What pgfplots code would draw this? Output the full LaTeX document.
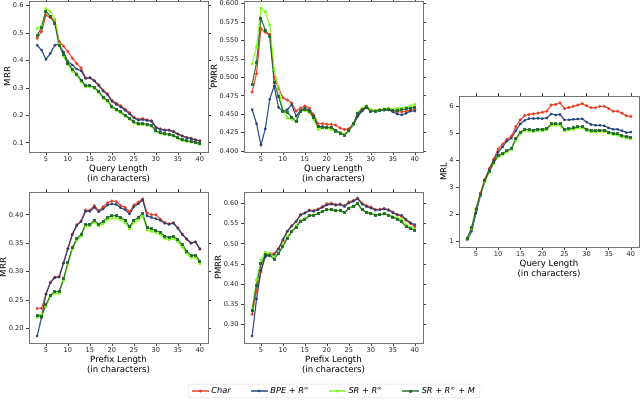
\documentclass[border=0pt]{standalone}
\usepackage{fontspec}
\setmainfont{DejaVu Sans}
\usepackage{pgfplots}
\usepackage{pgfplotstable}
\pgfplotsset{compat=1.18}

\definecolor{cchar}{RGB}{228,58,32}
\definecolor{cbpe}{RGB}{24,58,118}
\definecolor{csr}{RGB}{124,250,20}
\definecolor{csrm}{RGB}{30,100,40}

% MRR vs query length
\pgfplotstableread{
x char bpe sr srm
3 0.480 0.455 0.515 0.490
4 0.505 0.437 0.525 0.520
5 0.565 0.403 0.588 0.578
6 0.555 0.425 0.578 0.560
7 0.545 0.455 0.550 0.535
8 0.468 0.458 0.460 0.455
9 0.452 0.430 0.415 0.420
10 0.432 0.395 0.385 0.390
11 0.408 0.383 0.360 0.368
12 0.388 0.368 0.345 0.350
13 0.372 0.362 0.322 0.328
14 0.336 0.334 0.303 0.307
15 0.337 0.336 0.305 0.309
16 0.326 0.325 0.298 0.301
17 0.311 0.308 0.283 0.287
18 0.291 0.288 0.262 0.266
19 0.278 0.275 0.250 0.253
20 0.254 0.250 0.228 0.232
21 0.244 0.240 0.218 0.222
22 0.234 0.230 0.208 0.212
23 0.222 0.218 0.197 0.200
24 0.209 0.205 0.186 0.189
25 0.193 0.190 0.172 0.176
26 0.185 0.182 0.165 0.168
27 0.188 0.184 0.166 0.169
28 0.183 0.181 0.163 0.166
29 0.180 0.178 0.160 0.163
30 0.157 0.155 0.140 0.143
31 0.150 0.148 0.133 0.136
32 0.146 0.145 0.130 0.133
33 0.146 0.145 0.128 0.131
34 0.141 0.140 0.124 0.127
35 0.132 0.131 0.114 0.117
36 0.125 0.124 0.108 0.111
37 0.119 0.118 0.104 0.107
38 0.116 0.115 0.102 0.105
39 0.111 0.110 0.099 0.102
40 0.107 0.106 0.094 0.097
}\qmrr

% PMRR vs query length
\pgfplotstableread{
x char bpe sr srm
3 0.480 0.456 0.518 0.490
4 0.505 0.437 0.541 0.520
5 0.566 0.408 0.594 0.580
6 0.561 0.430 0.589 0.564
7 0.558 0.470 0.571 0.555
8 0.500 0.488 0.511 0.493
9 0.485 0.459 0.486 0.474
10 0.472 0.454 0.454 0.454
11 0.469 0.456 0.445 0.452
12 0.465 0.463 0.443 0.446
13 0.454 0.447 0.440 0.440
14 0.458 0.455 0.454 0.454
15 0.461 0.458 0.455 0.456
16 0.458 0.455 0.452 0.454
17 0.449 0.447 0.443 0.445
18 0.437 0.433 0.429 0.433
19 0.437 0.433 0.431 0.432
20 0.436 0.431 0.431 0.432
21 0.436 0.431 0.429 0.432
22 0.435 0.428 0.427 0.427
23 0.431 0.425 0.425 0.424
24 0.429 0.422 0.422 0.421
25 0.430 0.428 0.427 0.428
26 0.436 0.435 0.436 0.437
27 0.447 0.447 0.452 0.451
28 0.456 0.454 0.458 0.456
29 0.459 0.459 0.461 0.460
30 0.455 0.454 0.456 0.454
31 0.455 0.454 0.455 0.454
32 0.456 0.455 0.456 0.455
33 0.456 0.455 0.457 0.456
34 0.456 0.456 0.458 0.456
35 0.454 0.453 0.456 0.455
36 0.453 0.450 0.458 0.455
37 0.453 0.449 0.458 0.456
38 0.454 0.451 0.459 0.457
39 0.455 0.454 0.461 0.458
40 0.456 0.454 0.463 0.459
}\qpmrr

% MRL vs query length
\pgfplotstableread{
x char bpe sr srm
3 1.10 1.05 1.08 1.12
4 1.45 1.38 1.48 1.50
5 2.20 2.05 2.18 2.20
6 2.80 2.70 2.73 2.75
7 3.30 3.25 3.22 3.25
8 3.70 3.65 3.57 3.60
9 4.05 4.00 3.88 3.92
10 4.42 4.30 4.14 4.18
11 4.60 4.50 4.21 4.25
12 4.78 4.72 4.31 4.35
13 4.90 4.82 4.41 4.45
14 5.25 5.10 4.75 4.80
15 5.50 5.35 5.00 5.05
16 5.66 5.48 5.10 5.15
17 5.70 5.55 5.08 5.13
18 5.72 5.55 5.07 5.12
19 5.75 5.56 5.10 5.15
20 5.78 5.55 5.10 5.15
21 5.82 5.57 5.13 5.18
22 6.05 5.72 5.30 5.35
23 6.07 5.68 5.30 5.35
24 6.13 5.70 5.30 5.35
25 5.92 5.50 5.10 5.15
26 5.96 5.50 5.13 5.18
27 6.00 5.52 5.15 5.20
28 6.05 5.53 5.20 5.25
29 6.10 5.54 5.20 5.25
30 6.02 5.42 5.10 5.15
31 5.95 5.33 5.05 5.10
32 5.95 5.30 5.05 5.10
33 6.00 5.30 5.07 5.12
34 6.00 5.28 5.07 5.12
35 5.92 5.20 5.00 5.05
36 5.82 5.15 4.95 5.00
37 5.82 5.15 4.93 4.98
38 5.75 5.10 4.87 4.92
39 5.65 5.03 4.83 4.88
40 5.63 5.05 4.80 4.85
}\qmrl

% MRR vs prefix length
\pgfplotstableread{
x char bpe sr srm
3 0.235 0.186 0.219 0.222
4 0.235 0.219 0.224 0.221
5 0.260 0.260 0.238 0.241
6 0.281 0.280 0.256 0.258
7 0.290 0.289 0.262 0.264
8 0.291 0.290 0.261 0.265
9 0.315 0.315 0.284 0.287
10 0.341 0.340 0.313 0.316
11 0.366 0.365 0.339 0.342
12 0.382 0.381 0.355 0.358
13 0.389 0.388 0.362 0.365
14 0.408 0.406 0.380 0.383
15 0.408 0.406 0.380 0.383
16 0.416 0.413 0.387 0.390
17 0.407 0.405 0.380 0.383
18 0.414 0.410 0.384 0.388
19 0.421 0.417 0.391 0.395
20 0.424 0.419 0.394 0.398
21 0.423 0.418 0.394 0.398
22 0.416 0.412 0.391 0.395
23 0.413 0.409 0.386 0.390
24 0.405 0.401 0.375 0.379
25 0.417 0.414 0.386 0.390
26 0.422 0.419 0.391 0.395
27 0.428 0.426 0.398 0.402
28 0.403 0.398 0.373 0.377
29 0.400 0.395 0.371 0.375
30 0.400 0.393 0.368 0.372
31 0.392 0.390 0.365 0.369
32 0.386 0.385 0.358 0.362
33 0.384 0.383 0.356 0.360
34 0.386 0.385 0.358 0.362
35 0.377 0.376 0.352 0.356
36 0.366 0.365 0.343 0.347
37 0.357 0.357 0.332 0.336
38 0.350 0.350 0.324 0.328
39 0.352 0.352 0.325 0.329
40 0.339 0.340 0.314 0.318
}\pmrr

% PMRR vs prefix length
\pgfplotstableread{
x char bpe sr srm
3 0.325 0.271 0.338 0.334
4 0.384 0.363 0.410 0.397
5 0.430 0.434 0.460 0.450
6 0.472 0.468 0.479 0.472
7 0.476 0.472 0.475 0.471
8 0.475 0.472 0.468 0.462
9 0.488 0.487 0.476 0.476
10 0.508 0.510 0.497 0.493
11 0.530 0.531 0.518 0.514
12 0.544 0.544 0.531 0.529
13 0.555 0.555 0.544 0.541
14 0.572 0.571 0.558 0.556
15 0.576 0.576 0.562 0.560
16 0.583 0.582 0.571 0.569
17 0.582 0.580 0.571 0.570
18 0.586 0.584 0.575 0.575
19 0.592 0.590 0.580 0.580
20 0.599 0.596 0.584 0.584
21 0.600 0.598 0.585 0.585
22 0.597 0.595 0.581 0.581
23 0.598 0.597 0.583 0.583
24 0.594 0.592 0.576 0.576
25 0.603 0.601 0.588 0.588
26 0.607 0.605 0.593 0.593
27 0.613 0.611 0.599 0.599
28 0.600 0.598 0.584 0.584
29 0.594 0.592 0.578 0.578
30 0.591 0.588 0.575 0.575
31 0.585 0.583 0.571 0.571
32 0.585 0.584 0.572 0.572
33 0.587 0.586 0.574 0.574
34 0.584 0.583 0.571 0.571
35 0.578 0.577 0.567 0.566
36 0.572 0.572 0.564 0.561
37 0.568 0.570 0.560 0.554
38 0.558 0.560 0.548 0.542
39 0.550 0.552 0.540 0.537
40 0.542 0.547 0.536 0.533
}\ppmrr

\pgfplotsset{
  panel/.style={
    scale only axis, width=179pt, height=151pt,
    xmin=1.15, xmax=41.85, xtick={5,10,...,40},
    tick align=outside, major tick length=3pt,
    tick style={black!75, line width=0.5pt},
    axis line style={black!55, line width=0.7pt},
    tick label style={font=\fontsize{6.6}{7}\selectfont, text=black!85},
    xticklabel style={yshift=1.5pt},
    yticklabel style={xshift=1pt},
    label style={font=\fontsize{8.6}{9.6}\selectfont},
    /pgf/number format/assume math mode=true,
    xlabel style={align=center, yshift=4pt},
    ylabel style={inner sep=1pt},
    ylabel shift=-2pt,
    scaled y ticks=false,
    every axis plot/.append style={line width=1.2pt, opacity=0.85},
  },
  charS/.style={cchar, mark=*, mark size=0.9pt},
  bpeS/.style={cbpe, mark=x, mark size=1.3pt},
  srS/.style={csr, mark=star, mark size=1.5pt},
  srmS/.style={csrm, mark=square*, mark size=0.9pt},
}

\begin{document}
\begin{tikzpicture}
\path[use as bounding box] (0,0) rectangle (640pt,399pt);

% top left
\begin{axis}[panel, at={(29pt,247pt)}, anchor=south west,
  ymin=0.066, ymax=0.616, ytick={0.1,0.2,...,0.6},
  yticklabel style={/pgf/number format/.cd, fixed, precision=1},
  ylabel={MRR}, xlabel={Query Length\\(in characters)}]
\addplot[charS] table[x=x,y=char]{\qmrr};
\addplot[bpeS] table[x=x,y=bpe]{\qmrr};
\addplot[srS] table[x=x,y=sr]{\qmrr};
\addplot[srmS] table[x=x,y=srm]{\qmrr};
\end{axis}

% top middle
\begin{axis}[panel, at={(244pt,247pt)}, anchor=south west,
  ymin=0.3985, ymax=0.6035, ytick={0.4,0.425,...,0.61},
  yticklabel style={/pgf/number format/.cd, fixed, fixed zerofill, precision=3},
  ylabel={PMRR}, xlabel={Query Length\\(in characters)}]
\addplot[charS] table[x=x,y=char]{\qpmrr};
\addplot[bpeS] table[x=x,y=bpe]{\qpmrr};
\addplot[srS] table[x=x,y=sr]{\qpmrr};
\addplot[srmS] table[x=x,y=srm]{\qpmrr};
\end{axis}

% right
\begin{axis}[panel, at={(459pt,152pt)}, anchor=south west, width=180pt,
  ymin=0.796, ymax=6.384, ytick={1,2,...,6},
  ylabel={MRL}, xlabel={Query Length\\(in characters)}]
\addplot[charS] table[x=x,y=char]{\qmrl};
\addplot[bpeS] table[x=x,y=bpe]{\qmrl};
\addplot[srS] table[x=x,y=sr]{\qmrl};
\addplot[srmS] table[x=x,y=srm]{\qmrl};
\end{axis}

% bottom left (carries the legend)
\begin{axis}[panel, at={(29pt,56pt)}, anchor=south west,
  ymin=0.174, ymax=0.440, ytick={0.2,0.25,...,0.41},
  yticklabel style={/pgf/number format/.cd, fixed, fixed zerofill, precision=2},
  ylabel={MRR}, xlabel={Prefix Length\\(in characters)},
  legend columns=4,
  legend style={at={(1.704,-0.318)}, anchor=center, draw=black!15,
    rounded corners=1.5pt, font=\fontsize{8.2}{9}\selectfont,
    inner xsep=3pt, inner ysep=1pt,
    /tikz/every even column/.append style={column sep=17pt}},
  legend image post style={opacity=0.7}]
\addplot[charS] table[x=x,y=char]{\pmrr};
\addlegendentry{\textit{Char}}
\addplot[bpeS] table[x=x,y=bpe]{\pmrr};
\addlegendentry{\textit{BPE} + \textit{R}\textsuperscript{∞}}
\addplot[srS] table[x=x,y=sr]{\pmrr};
\addlegendentry{\textit{SR} + \textit{R}\textsuperscript{∞}}
\addplot[srmS] table[x=x,y=srm]{\pmrr};
\addlegendentry{\textit{SR} + \textit{R}\textsuperscript{∞} + \textit{M}}
\end{axis}

% bottom middle
\begin{axis}[panel, at={(244pt,56pt)}, anchor=south west,
  ymin=0.254, ymax=0.628, ytick={0.3,0.35,...,0.61},
  yticklabel style={/pgf/number format/.cd, fixed, fixed zerofill, precision=2},
  ylabel={PMRR}, xlabel={Prefix Length\\(in characters)}]
\addplot[charS] table[x=x,y=char]{\ppmrr};
\addplot[bpeS] table[x=x,y=bpe]{\ppmrr};
\addplot[srS] table[x=x,y=sr]{\ppmrr};
\addplot[srmS] table[x=x,y=srm]{\ppmrr};
\end{axis}
\end{tikzpicture}
\end{document}
